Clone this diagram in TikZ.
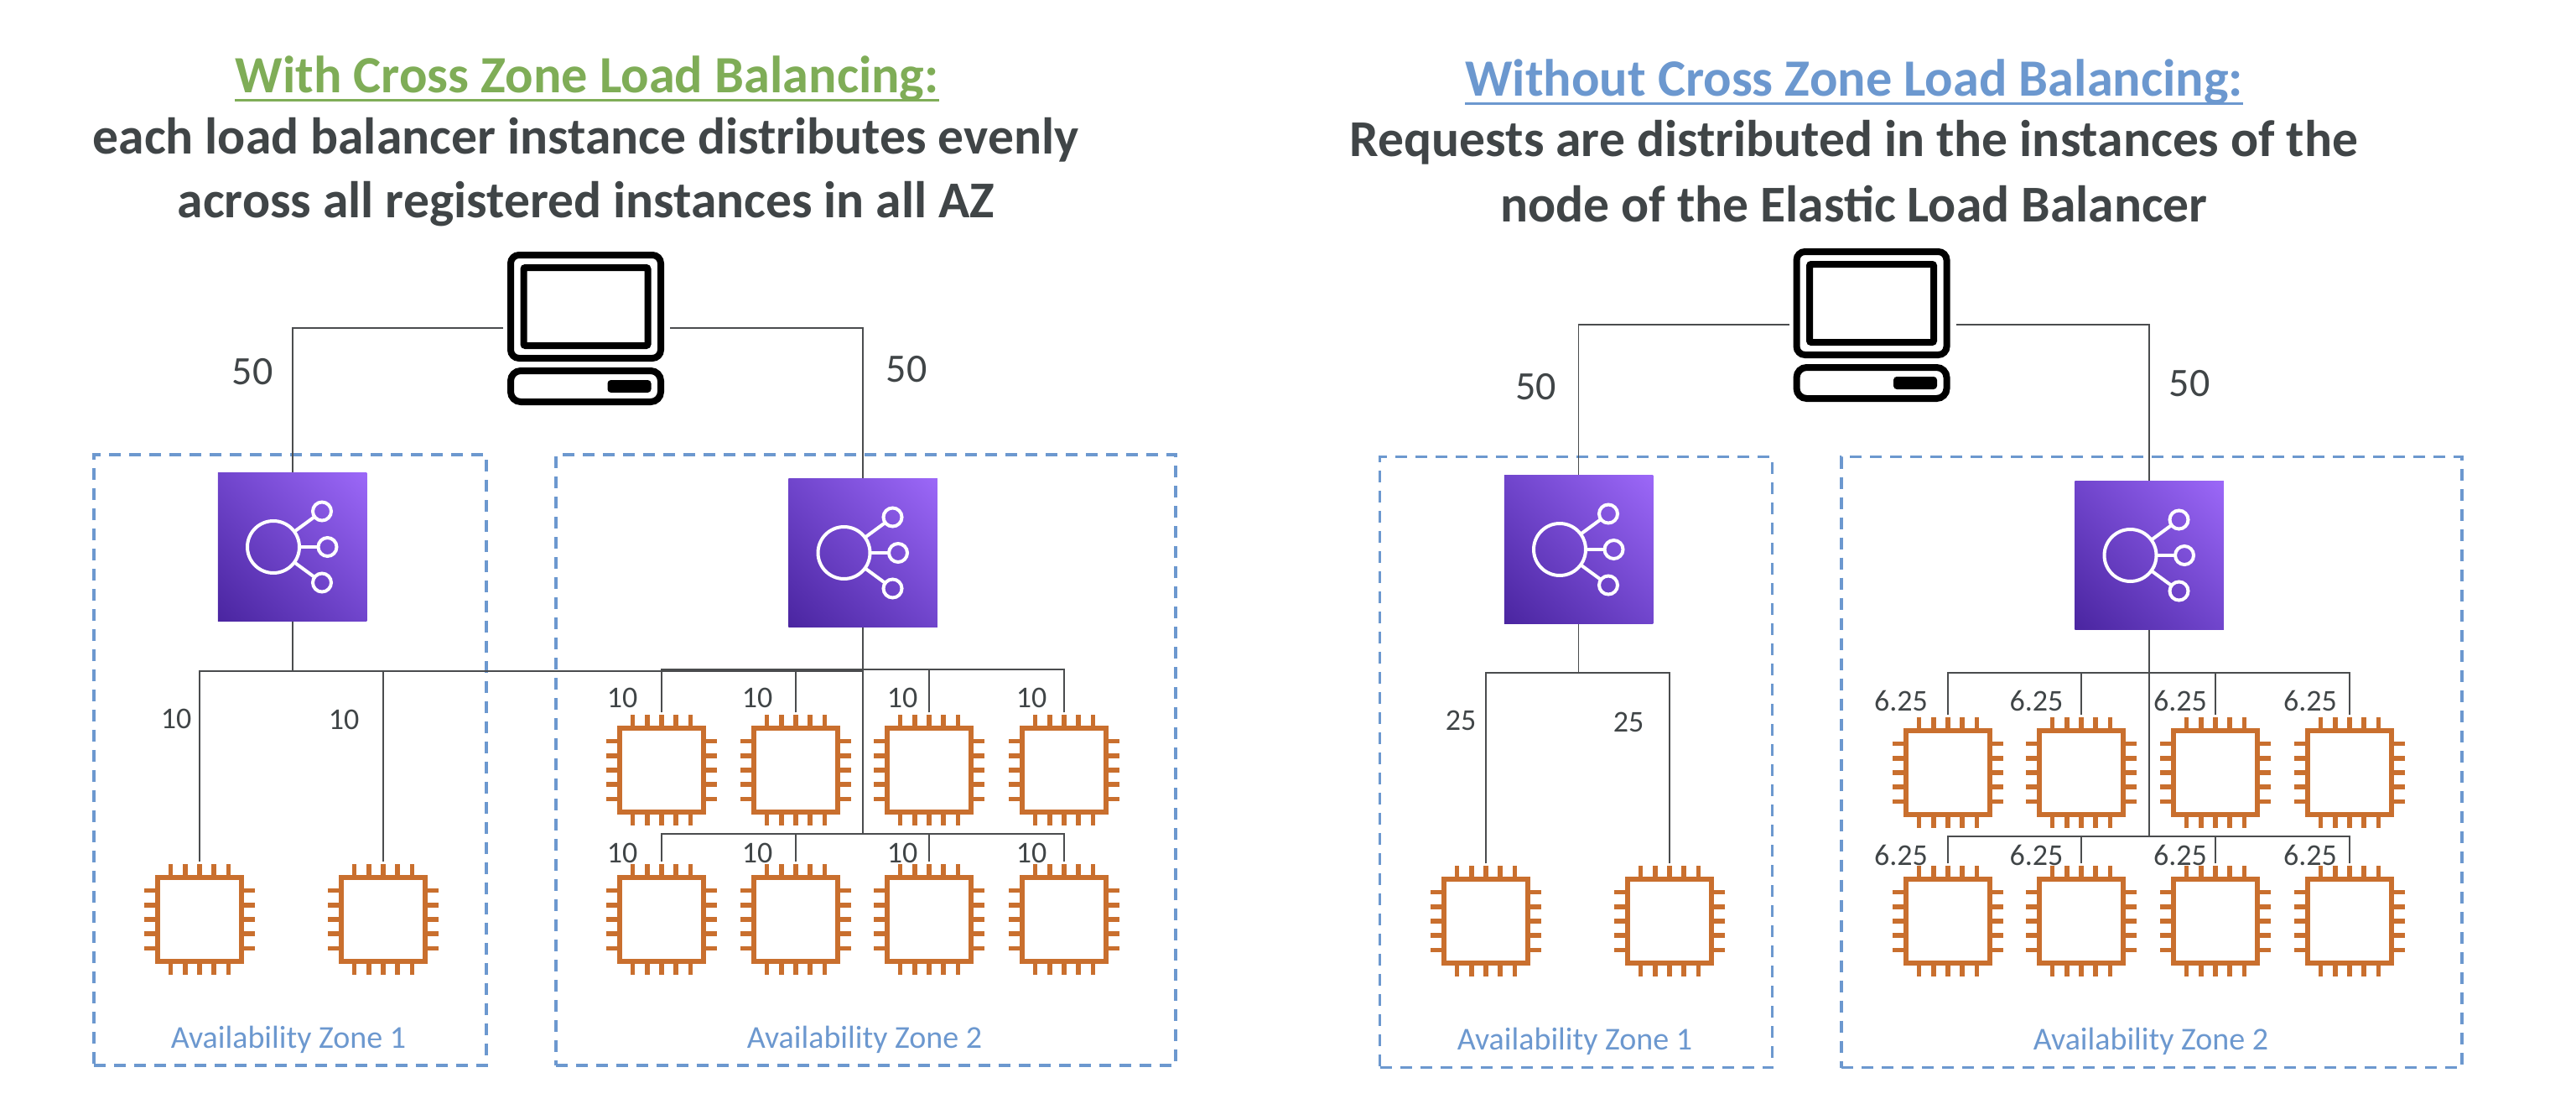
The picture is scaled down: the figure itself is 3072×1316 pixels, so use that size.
\documentclass[tikz,border=0pt]{standalone}
\usepackage{fontspec}
\setmainfont{Carlito}
\usetikzlibrary{shadings}
\definecolor{ink}{HTML}{404547}
\definecolor{wire}{HTML}{4A4C4E}
\definecolor{zoneblue}{HTML}{6C98CF}
\definecolor{withgreen}{HTML}{7FAD57}
\definecolor{chiporange}{HTML}{C96F2E}
\definecolor{elbdark}{HTML}{4A25A0}
\definecolor{elbmid}{HTML}{7045CC}
\definecolor{elblight}{HTML}{9C68F8}
\tikzstyle{heading} = [anchor=base, inner sep=0pt, font=\fontsize{30.8pt}{36pt}\selectfont\bfseries]
\tikzstyle{headtop} = [heading, font=\fontsize{31.2pt}{36pt}\selectfont\bfseries]
\tikzstyle{numbig} = [inner sep=0pt, text=ink, font=\fontsize{24pt}{24pt}\selectfont]
\tikzstyle{numsmall} = [inner sep=0pt, text=ink, font=\fontsize{18pt}{18pt}\selectfont]
\tikzstyle{zone} = [draw=zoneblue, line width=1.6pt, dash pattern=on 7pt off 5pt, inner sep=0pt,
minimum width=234pt, minimum height=364pt]
\tikzstyle{zonetext} = [inner sep=0pt, text=zoneblue, font=\fontsize{19pt}{19pt}\selectfont]
\tikzstyle{link} = [draw=wire, line width=0.8pt]
\tikzstyle{chip} = [rectangle, draw=chiporange, fill=white, line width=2.8pt, inner sep=0pt,
outer sep=0pt, minimum size=50.2pt]
\tikzstyle{pin} = [draw=chiporange, line width=2.8pt]
\tikzstyle{elb} = [rectangle, inner sep=0pt, outer sep=0pt, minimum size=88.75pt,
lower left=elbdark, upper right=elblight, upper left=elbmid, lower right=elbmid]
\tikzstyle{ring} = [circle, draw=white, line width=2pt, inner sep=0pt, outer sep=0pt]
\tikzstyle{monitor} = [rectangle, draw=black, fill=white, line width=4pt, rounded corners=5pt,
inner sep=0pt, outer sep=0pt, minimum width=89.5pt, minimum height=61.5pt]
\tikzstyle{screen} = [rectangle, draw=black, fill=white, line width=4pt, rounded corners=1pt,
inner sep=0pt, outer sep=0pt, minimum width=74pt, minimum height=46.5pt]
\tikzstyle{pcbase} = [rectangle, draw=black, fill=white, line width=4pt, rounded corners=6pt,
inner sep=0pt, outer sep=0pt, minimum width=89.5pt, minimum height=18.5pt]
\tikzstyle{pcbutton} = [rectangle, fill=black, rounded corners=2pt, inner sep=0pt, outer sep=0pt,
minimum width=26pt, minimum height=7.5pt]
\newcommand{\rulehead}[1]{\setbox0\hbox{#1}\rlap{\rule[-5pt]{\wd0}{1.5pt}}\box0}
\newcommand{\chipat}[2]{ %
  \node[chip] (#1) at (#2) {}; %
  \coordinate (#1-top) at ([yshift=9.25pt]#1.north); %
  \foreach \p in {-2,...,2} { %
    \draw[pin] ([xshift=\p*8.6pt]#1.north) -- ++(0,-15.5); %
    \draw[pin] ([xshift=\p*8.6pt]#1.south) -- ++(0,15.5); %
    \draw[pin] ([yshift=\p*8.6pt]#1.west) -- ++(-15.5,0); %
    \draw[pin] ([yshift=\p*8.6pt]#1.east) -- ++(15.5,0); %
  } %
}
\newcommand{\elbat}[2]{ %
  \node[elb] (#1) at (#2) {}; %
  \node[ring, minimum size=31pt] (#1-hub) at ([xshift=-11.25pt]#1.center) {}; %
  \node[ring, minimum size=11pt] (#1-a) at ([shift={(35.5,-42.5)}]#1.center) {}; %
  \node[ring, minimum size=11pt] (#1-b) at ([xshift=21pt]#1.center) {}; %
  \node[ring, minimum size=11pt] (#1-c) at ([shift={(35.5,42.5)}]#1.center) {}; %
  \foreach \s in {a,b,c} { %
    \draw[white, line width=2pt] (#1-hub) -- (#1-\s); %
  } %
}
\newcommand{\computer}[2]{ %
  \node[monitor] (#1) at (#2) {}; %
  \node[screen] (#1-screen) at (#1.center) {}; %
  \node[pcbase] (#1-base) at ([yshift=-47.5pt]#1.center) {}; %
  \node[pcbutton] (#1-button) at ([xshift=26pt]#1-base.center) {}; %
  \coordinate (#1-l) at ([shift={(-98.5,25.5)}]#1.center); %
  \coordinate (#1-r) at ([shift={(100.5,25.5)}]#1.center); %
}

\begin{document}
\begin{tikzpicture}[x=0.5pt,y=-0.5pt]
    \useasboundingbox (0,0) rectangle (3072,1316);

    % with cross zone
    \node[headtop, text=withgreen](titleA) at (700,111) {\rulehead{With Cross Zone Load Balancing:}};
    \node[heading, text=ink](subA1) at (698.5,184) {each load balancer instance distributes evenly};
    \node[heading, text=ink](subA2) at (699,260) {across all registered instances in all AZ};
    \node[zone](zoneA1) at (346,906) {};
    \node[zone, minimum width=369.5pt](zoneA2) at (1032.5,906) {};
    \node[zonetext](zoneA1-text) at (344,1239) {Availability Zone 1};
    \node[zonetext](zoneA2-text) at (1031,1239) {Availability Zone 2};
    \computer{pcA}{698.5,365.5}
    \foreach \n/\x in {A1/238,A2/457} {\chipat{chip\n}{\x,1096}}
    \foreach \n/\x in {A3/789,A4/949,A5/1108,A6/1269} {\chipat{chip\n}{\x,918}}
    \foreach \n/\x in {A7/789,A8/949,A9/1108,A10/1269} {\chipat{chip\n}{\x,1096}}
    \coordinate (busA) at (1029,800);
    \coordinate (busA2) at (1029,798);
    \coordinate (busA3) at (1029,994);
    \draw[link] (pcA-l) -| (349,563);
    \draw[link] (pcA-r) -| (1029,570);
    \draw[link] (349,741) -- (349,800);
    \draw[link] (1029,748) -- (busA3);
    \draw[link] (chipA1-top) |- (busA);
    \draw[link] (chipA2-top) -- (chipA2-top |- busA);
    \foreach \c in {chipA3,chipA4,chipA5,chipA6} {\draw[link] (\c-top) |- (busA2);}
    \foreach \c in {chipA7,chipA8,chipA9,chipA10} {\draw[link] (\c-top) |- (busA3);}
    \elbat{elbA1}{348.5,652}
    \elbat{elbA2}{1029,659}
    \node[numbig](numA1) at (301,443) {50};
    \node[numbig](numA2) at (1081,440) {50};
    \node[numsmall](numA3) at (210,857) {10};
    \node[numsmall](numA4) at (410,858) {10};
    \foreach \n/\x in {5/742,6/903,7/1076,8/1230} {
      \node[numsmall](numA\n) at (\x,832) {10};
    }
    \foreach \n/\x in {9/742,10/903,11/1076,12/1230} {
      \node[numsmall](numA\n) at (\x,1017) {10};
    }

    % without cross zone
    \node[headtop, text=zoneblue](titleB) at (2211,115) {\rulehead{Without Cross Zone Load Balancing:}};
    \node[heading, text=ink](subB1) at (2211,187) {Requests are distributed in the instances of the};
    \node[heading, text=ink](subB2) at (2211,264) {node of the Elastic Load Balancer};
    \node[zone](zoneB1) at (1879.5,908.5) {};
    \node[zone, minimum width=370pt](zoneB2) at (2566,908.5) {};
    \node[zonetext](zoneB1-text) at (1878,1241) {Availability Zone 1};
    \node[zonetext](zoneB2-text) at (2565,1241) {Availability Zone 2};
    \computer{pcB}{2232,361.5}
    \foreach \n/\x in {B1/1772,B2/1991} {\chipat{chip\n}{\x,1098}}
    \foreach \n/\x in {B3/2323,B4/2482,B5/2642,B6/2802} {\chipat{chip\n}{\x,921}}
    \foreach \n/\x in {B7/2323,B8/2482,B9/2642,B10/2802} {\chipat{chip\n}{\x,1098}}
    \coordinate (busB) at (1882.5,802);
    \coordinate (busB2) at (2563,802);
    \coordinate (busB3) at (2563,997);
    \draw[link] (pcB-l) -| (1882.5,566);
    \draw[link] (pcB-r) -| (2563,573);
    \draw[link] (1882.5,744) -- (busB);
    \draw[link] (2563,751) -- (busB3);
    \foreach \c in {chipB1,chipB2} {\draw[link] (\c-top) |- (busB);}
    \foreach \c in {chipB3,chipB4,chipB5,chipB6} {\draw[link] (\c-top) |- (busB2);}
    \foreach \c in {chipB7,chipB8,chipB9,chipB10} {\draw[link] (\c-top) |- (busB3);}
    \elbat{elbB1}{1882.5,655}
    \elbat{elbB2}{2563,662}
    \node[numbig](numB1) at (1831.5,461) {50};
    \node[numbig](numB2) at (2611,457.5) {50};
    \node[numsmall](numB3) at (1742,859) {25};
    \node[numsmall](numB4) at (1942,861) {25};
    \foreach \n/\x in {5/2267,6/2428.5,7/2600,8/2755} {
      \node[numsmall](numB\n) at (\x,835) {6.25};
    }
    \foreach \n/\x in {9/2267,10/2428.5,11/2600,12/2755} {
      \node[numsmall](numB\n) at (\x,1019.5) {6.25};
    }
\end{tikzpicture}
\end{document}
